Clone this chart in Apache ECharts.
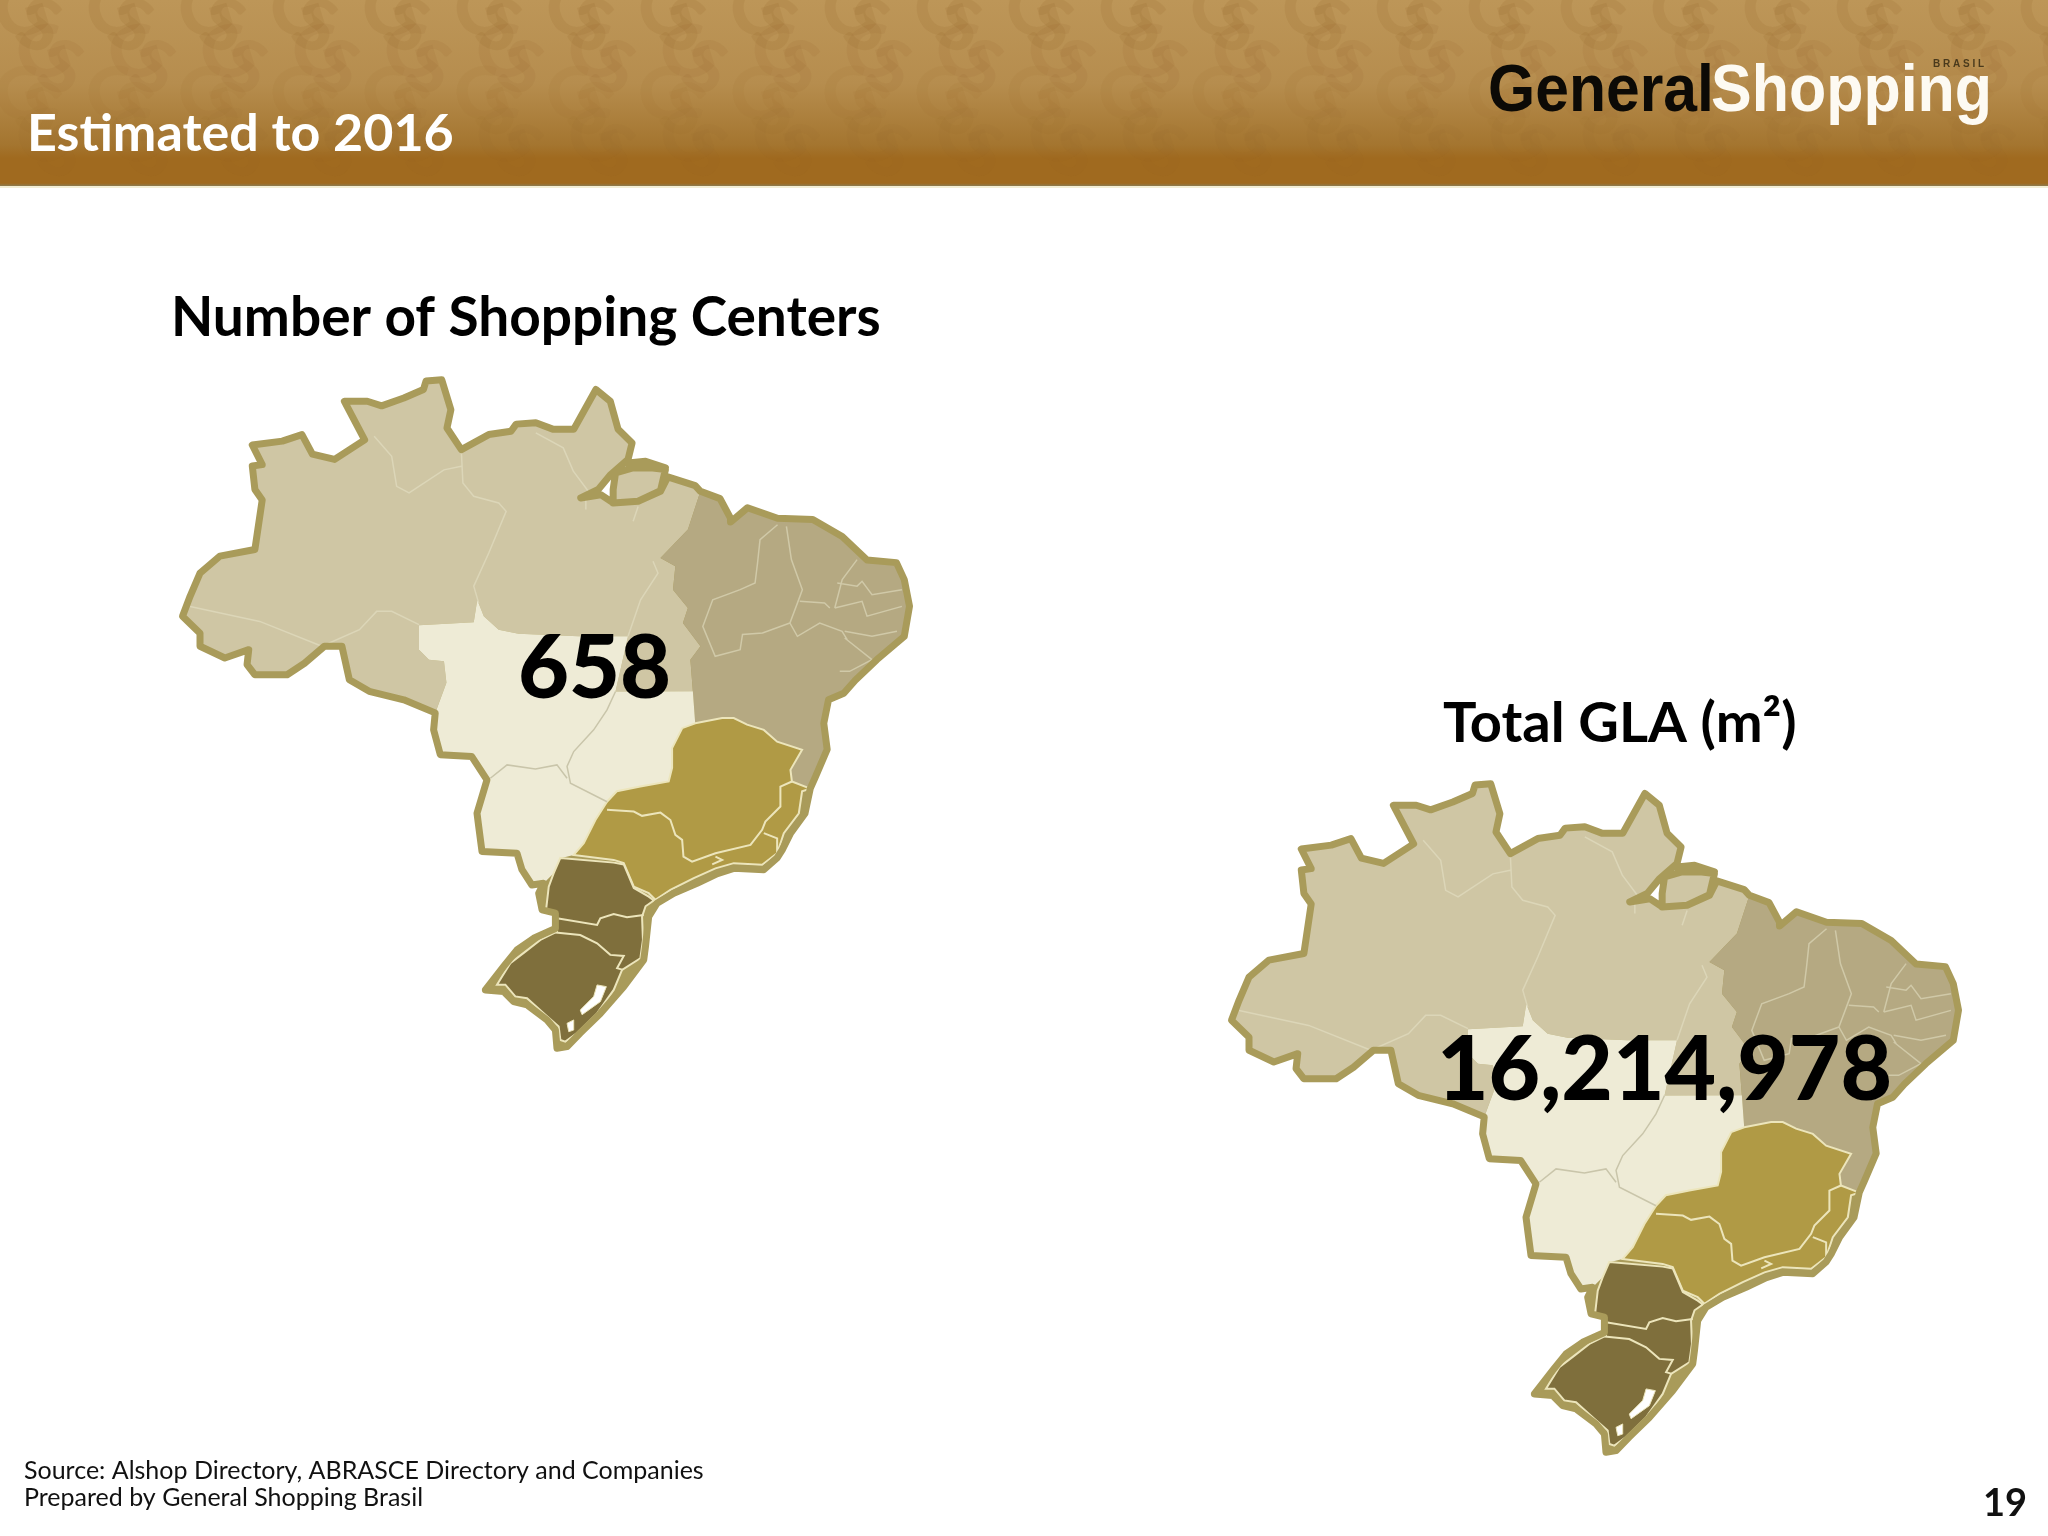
<!DOCTYPE html>
<html>
<head>
<meta charset="utf-8">
<title>Estimated to 2016</title>
<script src="https://cdn.jsdelivr.net/npm/echarts@6/dist/echarts.min.js"></script>
<style>
html, body { margin: 0; padding: 0; background: #fff; }
#main { width: 2048px; height: 1536px; }
</style>
</head>
<body>
<div id="main"></div>
<script>
const panelTitles = ['Number of Shopping Centers', 'Total GLA (m²)'];
const panelValues = ['658', '16,214,978'];
const sourceLines = ['Source: Alshop Directory, ABRASCE Directory and Companies', 'Prepared by General Shopping Brasil'];

// map shape (x, y as read on the slide, y goes down)
const westBorder = [[333,546],[309,536],[282.5,529.5],[267.3,520.6],[261.6,495],[248.2,495],[233,508],[219.7,516.8],[194.9,516.8],[189,509],[190.3,497.6],[172,504],[153,495],[153,485],[139.6,472],[145.4,456.8],[153,439],[168.2,426],[195,421],[200.6,383],[195,375],[193,357],[200.6,356]];
const coastNorth = [[193,341],[216,338],[231,333],[239,348],[256,352],[279,337],[263.5,307.5],[281,307.5],[292,311],[309,305],[324,298.5],[326,292],[338,291],[345,314],[342,328],[353,344.5],[374,333],[391,330.5],[395,325],[410,324],[423.5,329],[439,329],[456,298.5],[467,307.5],[473,329],[483.7,339.4],[480.6,352],[467.3,363.6],[457.8,375],[444.4,381.5],[459.7,379],[469.2,385.3],[488.3,384],[505.4,376.4],[511,365.4],[532,372]];
const coastNortheast = [[536,376.4],[551,382],[559,397],[559,400],[572,389],[595,397],[622,398],[644.5,411],[663.5,429],[686,431],[692,444],[696,464.4],[692,487.4],[671,505.3],[654.5,521],[645.7,531],[634,536],[630.4,554],[633,574],[624,595],[620,604]];
const coastSoutheast = [[616,623],[605,638],[598.5,651],[594.7,657],[584.5,666],[561.5,665],[549,669],[533.4,676.4],[515.6,684],[502.8,691.7]];
const coastSouth = [[496.4,702],[493.9,725],[492.6,735],[477.3,755.5],[459.4,776],[444,791],[434,801.4],[426.2,802.7],[425,788.7],[418.6,781],[403.3,769.5],[393,767],[385.4,759.3],[371.4,758],[385.4,740],[395.6,727.4],[408.4,718.5],[425,711],[425,699.3],[414.8,696.8],[412.2,684],[416,676.4]];
const centerWestBorder = [[407,677.7],[399.4,666],[395.6,653.4],[368.8,652],[366.3,633],[365,622.8],[372.6,597.3],[361,579.4],[336.9,578],[331.8,559],[333,546.2]];
const islandMarajo = [[471,362.4],[488.3,357.3],[509.2,359.8],[505.4,376],[488.3,384],[469.2,385.3],[469.2,375]];
const islandMexiana = [[480.6,354.7],[494,353.4],[509.2,358.5],[482.6,358.5]];

const northeastEdge = [[536,376.4],[526.4,405.7],[505.4,427.4],[516.8,433.8],[515,451.7],[526.4,465.7],[522.6,477.2],[536,495],[528.3,505.3],[530.2,529.5]];
const centerWestTop = [[333,546],[341.6,523],[339.7,506.5],[328.2,505.3],[320.6,497.6],[320.6,479],[362.5,476.7],[365.2,459.4],[370.2,472],[381.6,482.3],[396.8,485.4],[442.5,487.4],[480.6,487.4],[471,529.6],[530.2,529.5]];
const southeastTop = [[530.2,529.5],[532,554],[552.6,550],[561.5,550],[571.7,555],[584.5,559],[594.7,568],[613.8,574.3],[604.9,589.6],[606,598.5],[620,604]];
const centerWestEast = [[532,554],[522,557.7],[514.3,573],[514.3,588],[511.7,598.5],[490,602.4],[472,606],[464.5,614],[455.6,628],[446.7,645.7],[439,654.7]];
const southeastCoastInner = [[613.8,606],[611.3,622.8],[599.8,638],[594.7,653.4],[583.2,662.3],[561.5,661],[547.5,665],[530.9,672.5],[513,681.5],[501.5,689],[496.4,684],[485,679],[477.3,661],[469.6,658.5]];
const southRing = [[428.8,657],[469.6,660.6],[477.3,662],[485,680],[496.4,686.6],[500.3,689.6],[494,694],[491.3,702],[492,719.8],[490,733.8],[476,742.7],[469.6,758],[456.9,776],[441.6,791],[432.6,797.6],[428.8,796.3],[427.5,786],[417.3,777],[403.3,764.4],[394.3,763],[386.7,754],[380.3,754],[390.5,737.6],[402,728.7],[413.5,719.8],[426.2,713.4],[426.2,702],[418,695.5],[419.9,679],[423.7,668.7]];
const lagoonPatos = [[456.9,754.2],[464,755.5],[459.4,767],[445.4,777],[444,773.4],[454.3,763.1]];
const lagoonMirim = [[433.9,783.6],[439,781],[439,788.7],[435.2,790]];

const linesNorth = [
    [[353,345.8],[354.2,370],[362.5,380.2],[381.6,385.3],[387.3,391.7],[374,423.6],[362.5,449],[366.3,462]],
    [[286.3,334.3],[299.7,349.6],[303.5,372.6],[313,377.7],[339.7,360],[353,357.3]],
    [[145.4,464.5],[198.7,476],[246.3,495]],
    [[246.3,495],[275,482.3],[288.2,468.3],[299.7,468.3],[320.6,478.5]],
    [[410,331.7],[431,343.2],[438.7,361],[450.2,376.4]],
    [[448.3,382.8],[448.3,390.4]],
    [[488.3,388],[484.5,399.4]],
    [[499.7,430],[503.5,439],[490.2,459.4],[480.6,487.4]]
];
const linesNortheast = [
    [[595,402],[581.6,413.4],[579.7,431.3],[577.8,446.6],[566.4,451.7],[545.4,459.4],[537.8,479.8],[547.3,502.7],[566.4,497.6],[568.2,486],[583.5,484.9],[604.5,477.2]],
    [[601.8,403.2],[605.6,428.7],[614,451.7],[610.2,462],[604.5,477.2],[610.2,487.4],[627.3,477.2],[644.4,483.6],[648.3,490]],
    [[612,460.6],[631,461.9],[635,465.7]],
    [[655.9,428.7],[644.5,444],[638.8,465.7]],
    [[640.7,446.6],[655.9,449],[659.7,445.3],[667.3,455.5],[690.2,451.7]],
    [[638.8,465.7],[659.7,460.6],[663.5,472],[690.2,464.5]],
    [[646.4,483.6],[667.3,487.4],[686.4,483.6]],
    [[646.4,488.7],[667.3,505.3],[650.2,514.2],[642.6,514.2]]
];
const linesCenterWest = [
    [[471,529.6],[464.5,543.7],[454.3,559],[439,575.6],[433.9,587],[436.5,599.8],[464.5,614]],
    [[375.2,596],[388,585.8],[409.7,589],[426.2,585.8],[433.9,596]]
];
const linesSouth = [
    [[464.5,620.2],[485,621.5],[491.3,624.8],[505.4,622.3],[513,628],[516.8,639.4],[522,643.2],[523,656],[529.6,659.8],[547.5,653.4],[574.3,647],[583.2,635.5],[585.7,629.2],[597.2,617.7],[597.2,602.4],[606,598.5]],
    [[584.5,638],[594.7,642],[594.7,656]],
    [[547.5,656],[552.6,658.5],[545,662]],
    [[426.2,703.2],[456.9,708.3],[459.4,703.2],[469.6,700],[479.8,702.4],[492.6,700.6]],
    [[425,714],[444,716],[456.9,722.3],[467,731.2],[477.3,732],[472.2,741.4],[476.8,742.7]]
];

const regionNames = ['Norte', 'Nordeste', 'Centro-Oeste', 'Sudeste', 'Sul'];
const regionColors = ['#cfc6a4', '#b5a982', '#eeebd6', '#b09a45', '#7f6f3c'];

const rev = function (pts) { return pts.slice().reverse(); };
const flip = function (pts) { return pts.map(function (p) { return [p[0], -p[1]]; }); };

const outline = [].concat(westBorder, coastNorth, coastNortheast, coastSoutheast, coastSouth, centerWestBorder);
const rings = {
    'Norte': [westBorder.concat(coastNorth, northeastEdge, rev(centerWestTop)), islandMarajo],
    'Nordeste': [coastNortheast.concat(rev(southeastTop), rev(northeastEdge))],
    'Centro-Oeste': [centerWestBorder.concat(centerWestTop, centerWestEast, [[428.8,657.2],[423.7,668.7],[416,676.4]])],
    'Sudeste': [southeastTop.slice(1).concat(southeastCoastInner, rev(centerWestEast))],
    'Sul': [southRing]
};

function polygonFeature(name, ringList) {
    return {
        type: 'Feature',
        properties: { name: name },
        geometry: { type: 'MultiPolygon', coordinates: ringList.map(function (r) { return [flip(r)]; }) }
    };
}
function lineFeature(name, lines) {
    return {
        type: 'Feature',
        properties: { name: name },
        geometry: { type: 'MultiLineString', coordinates: lines.map(flip) }
    };
}

const features = [polygonFeature('Base', [outline])];
regionNames.forEach(function (n) { features.push(polygonFeature(n, rings[n])); });
features.push(polygonFeature('Lagoa dos Patos', [lagoonPatos]));
features.push(polygonFeature('Lagoa Mirim', [lagoonMirim]));
features.push(lineFeature('Divisas Norte', linesNorth));
features.push(lineFeature('Divisas Nordeste', linesNortheast));
features.push(lineFeature('Divisas Centro-Oeste', linesCenterWest));
features.push(lineFeature('Divisas Sul', linesSouth));
features.push(polygonFeature('Contorno', [outline, islandMarajo, islandMexiana]));
// two map series on one map name get merged, so each panel has its own name
echarts.registerMap('brasil-lojas', { type: 'FeatureCollection', features: features });
echarts.registerMap('brasil-abl', { type: 'FeatureCollection', features: features });

const lightEdge = '#ece5bb';
const borderGold = '#a99b5a';
function regionData() {
    const data = [{ name: 'Base', value: 0, itemStyle: { areaColor: borderGold, borderWidth: 0 } }];
    regionNames.forEach(function (n, i) {
        const lit = i >= 3;
        data.push({
            name: n, value: i + 1,
            itemStyle: { areaColor: regionColors[i], borderColor: lit ? lightEdge : regionColors[i], borderWidth: lit ? 2 : 0 }
        });
    });
    data.push({ name: 'Lagoa dos Patos', value: 6, itemStyle: { areaColor: '#ffffff', borderColor: lightEdge, borderWidth: 1 } });
    data.push({ name: 'Lagoa Mirim', value: 7, itemStyle: { areaColor: '#ffffff', borderColor: lightEdge, borderWidth: 1 } });
    data.push({ name: 'Divisas Norte', value: 8, itemStyle: { areaColor: 'transparent', borderColor: '#dcd6b8', borderWidth: 1.5 } });
    data.push({ name: 'Divisas Nordeste', value: 9, itemStyle: { areaColor: 'transparent', borderColor: '#d0c9a8', borderWidth: 1.5 } });
    data.push({ name: 'Divisas Centro-Oeste', value: 10, itemStyle: { areaColor: 'transparent', borderColor: '#c9c5aa', borderWidth: 1.5 } });
    data.push({ name: 'Divisas Sul', value: 11, itemStyle: { areaColor: 'transparent', borderColor: lightEdge, borderWidth: 2 } });
    data.push({ name: 'Contorno', value: 12, itemStyle: { areaColor: 'transparent', borderColor: borderGold, borderWidth: 7, borderJoin: 'round' } });
    return data;
}
function mapSeries(name, mapName, center) {
    return {
        type: 'map', name: name, map: mapName, roam: false, silent: true,
        aspectScale: 1, layoutCenter: center, layoutSize: 727,
        label: { show: false }, emphasis: { disabled: true }, select: { disabled: true },
        itemStyle: { areaColor: 'transparent', borderWidth: 0 },
        data: regionData(), z: 5
    };
}

// header band with the faint G S pattern behind the text
const graphics = [{
    type: 'rect', z: 0, shape: { x: 0, y: 0, width: 2048, height: 186 },
    style: { fill: new echarts.graphic.LinearGradient(0, 0, 0, 1, [
        { offset: 0, color: '#bd9658' }, { offset: 0.45, color: '#b68d4e' }, { offset: 0.78, color: '#a4752f' },
        { offset: 0.85, color: '#a06a1f' }, { offset: 0.985, color: '#a06a1f' }, { offset: 1, color: '#8c7b50' }
    ]) }
}, {
    type: 'rect', z: 0, shape: { x: 0, y: 186, width: 2048, height: 2 }, style: { fill: '#f3eed6' }
}];
for (let row = 0; row < 4; row++) {
    for (let col = 0; col < 46; col++) {
        graphics.push({
            type: 'text', z: 1, x: col * 46 - 14 + (row % 2) * 22, y: row * 42 - 14,
            rotation: (col % 2 ? -0.35 : 0.3),
            style: { text: col % 2 ? 'S' : 'G', font: '900 72px Lato', fill: 'rgba(150,100,40,' + (0.15 - row * 0.035) + ')' }
        });
    }
}
graphics.push({ type: 'text', z: 3, x: 1488, y: 59, scaleX: 0.905, style: { text: 'General', font: 'bold 67px "Liberation Sans"', fill: '#0c0a06' } });
graphics.push({ type: 'text', z: 3, x: 1711, y: 59, scaleX: 0.91, style: { text: 'Shopping', font: 'bold 67px "Liberation Sans"', fill: '#fdfaf2' } });
graphics.push({ type: 'text', z: 3, x: 1933, y: 59, style: { text: 'B R A S I L', font: 'bold 10px "Liberation Sans"', fill: '#4a3a1c' } });

const textBlock = function (text, left, top, size, weight, color) {
    return { text: text, left: left, top: top, padding: 0, textStyle: { fontFamily: 'Lato', fontSize: size, fontWeight: weight, color: color, lineHeight: size * 1.2 } };
};

const chart = echarts.init(document.getElementById('main'));
chart.setOption({
    animation: false,
    backgroundColor: '#ffffff',
    title: [
        textBlock('Estimated to 2016', 27, 103, 52, 'bold', '#ffffff'),
        textBlock(panelTitles[0], 171, 285, 55, 'bold', '#000000'),
        textBlock(panelTitles[1], 1443, 690, 56, 'bold', '#000000'),
        textBlock(panelValues[0], 518, 617, 88, 900, '#000000'),
        textBlock(panelValues[1], 1437, 1018, 89, 900, '#000000'),
        textBlock(sourceLines[0], 24, 1456, 25, 'normal', '#111111'),
        textBlock(sourceLines[1], 24, 1483, 25, 'normal', '#111111'),
        textBlock('19', 1983, 1481, 38, 'bold', '#111111')
    ],
    graphic: graphics,
    series: [mapSeries(panelTitles[0], 'brasil-lojas', [546, 714]), mapSeries(panelTitles[1], 'brasil-abl', [1595, 1118])]
});
</script>
</body>
</html>
